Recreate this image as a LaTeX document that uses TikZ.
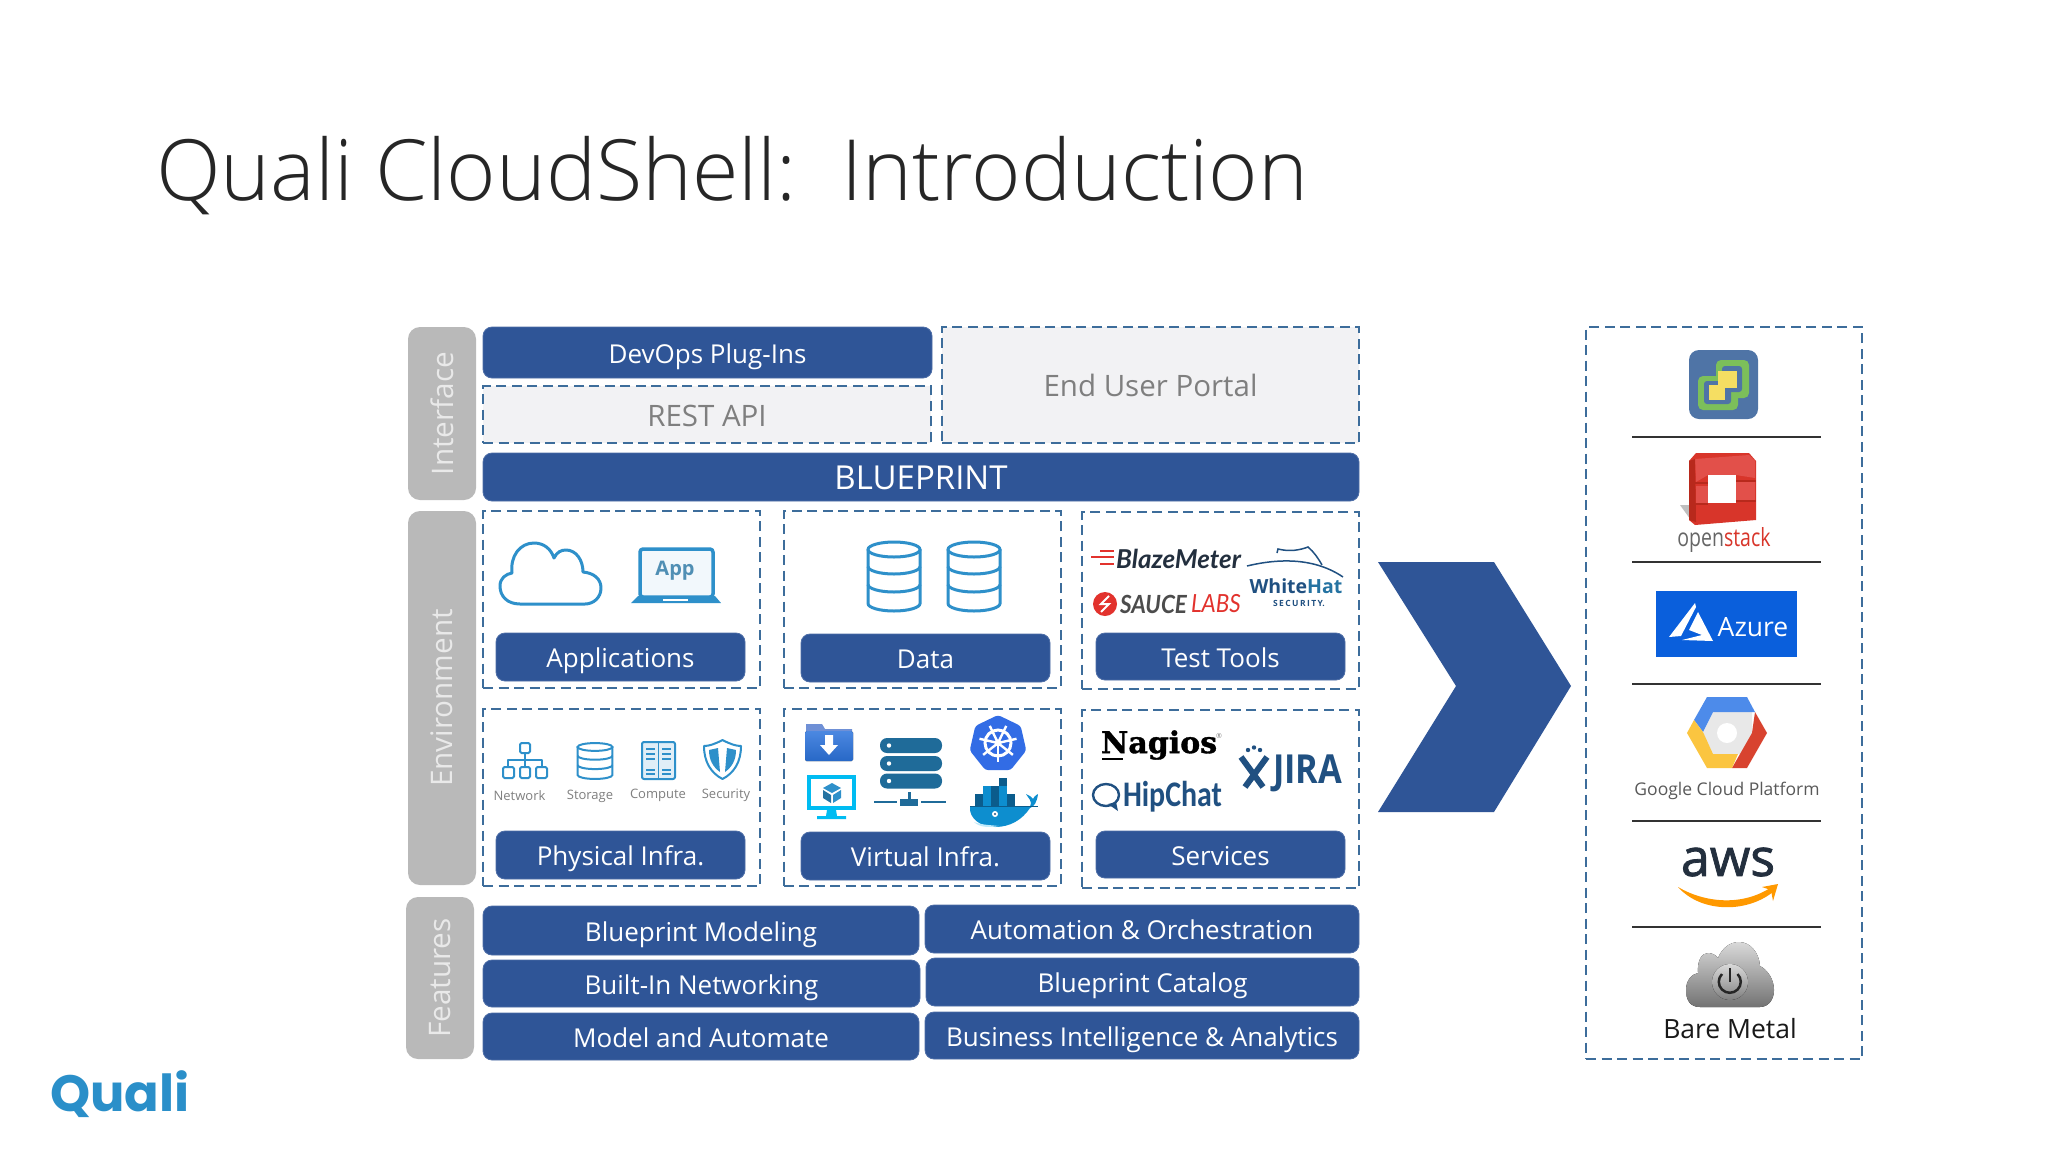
\documentclass[tikz,border=0pt]{standalone}
\usepackage{fontspec}
\usetikzlibrary{shapes.geometric}
\setmainfont{Open Sans}
\newfontfamily\titlefont{Open Sans Light}
\newfontfamily\semifont[FakeBold=1.5]{Open Sans}
\newfontfamily\narrowfont{Carlito}
\newfontfamily\logofont{Poppins}
\newfontfamily\italfont{Lato}
\newfontfamily\nagiosfont[FakeBold=1.2]{DejaVu Serif Bold}
\definecolor{pillblue}{HTML}{2F5597}
\definecolor{dashblue}{HTML}{3D6D9B}
\definecolor{tabgray}{HTML}{B9B9B9}
\definecolor{tabtext}{HTML}{E9E9E9}
\definecolor{greyfill}{HTML}{F2F2F4}
\definecolor{greytext}{HTML}{7F7F7F}
\definecolor{iconblue}{HTML}{2E90CA}
\definecolor{navylogo}{HTML}{205081}
\definecolor{serverblue}{HTML}{1F6B99}
\definecolor{saucered}{HTML}{E2322D}
\definecolor{quali}{HTML}{2A8FC9}
\definecolor{folderblue}{HTML}{2C73DC}
\definecolor{foldertab}{HTML}{6F90D6}
\definecolor{screencyan}{HTML}{00BCF2}
\definecolor{k8sblue}{HTML}{326CE5}
\definecolor{whaleblue}{HTML}{0D8ECF}
\definecolor{cratedark}{HTML}{0B5C8C}
\definecolor{vcblue}{HTML}{4F74A6}
\definecolor{vcgreen}{HTML}{7CBF5A}
\definecolor{vcyellow}{HTML}{F5DE62}
\definecolor{stackdark}{HTML}{B8291C}
\definecolor{stackred}{HTML}{D8352A}
\definecolor{stacklight}{HTML}{E2504A}
\definecolor{azureblue}{HTML}{0A5FDC}
\definecolor{gcpblue}{HTML}{4D8BEA}
\definecolor{gcpred}{HTML}{D8432F}
\definecolor{gcpyellow}{HTML}{FBC540}
\definecolor{awsdark}{HTML}{232F3E}
\definecolor{awsorange}{HTML}{FF9900}
\tikzset{
  every node/.style={inner sep=0pt,outer sep=0pt},
  pill/.style={fill=pillblue,draw=pillblue!85!white,line width=0.8pt,rounded corners=9pt,text=white,
    font={\fontsize{26}{30}\selectfont},text height=21pt,text depth=0pt,align=center},
  dashbox/.style={draw=dashblue,line width=2pt,dash pattern=on 10pt off 5.5pt},
  greybox/.style={dashbox,fill=greyfill,text=greytext,font={\fontsize{29.5}{30}\selectfont},text height=23pt,text depth=0pt},
  tab/.style={fill=tabgray,rounded corners=12pt,rotate=90,text=tabtext,font={\fontsize{29.7}{32}\selectfont}},
  smalllabel/.style={text=greytext,font={\fontsize{13}{14}\selectfont}},
  rule/.style={draw=black!80,line width=1.6pt},
  iconline/.style={draw=iconblue,line width=3pt,line join=round}
}
\newcommand{\dbicon}[5]{
\begin{scope}[shift={(#1,#2)},xscale=#3,yscale=#4]
\draw[iconblue,line width=#5,fill=white] (-26,-27) -- (-26,27) arc (180:0:26 and 7.5) -- (26,-27);
\draw[iconblue,line width=#5] (0,-27) ellipse (26 and 7.5);
\draw[iconblue,line width=#5] (-26,-10) arc (180:0:26 and 7.5);
\draw[iconblue,line width=#5] (-26,8) arc (180:0:26 and 7.5);
\end{scope}}

\begin{document}
\begin{tikzpicture}[x=1pt,y=-1pt]
\useasboundingbox (0,0) rectangle (2048,1152);
\fill[white] (0,0) rectangle (2048,1152);
\node[anchor=base west,font={\titlefont\fontsize{84.5}{90}\selectfont},text=black!85] (title) at (156,200) {Quali CloudShell:\ \ Introduction};
\node[font={\logofont\bfseries\fontsize{51}{60}\selectfont},text=quali] (qualilogo) at (120,1094) {Quali};

\node[tab,minimum width=173pt,minimum height=68pt] (interface) at (442,413.5) {Interface};
\node[tab,minimum width=374pt,minimum height=68pt] (environment) at (442,698) {Environment};
\node[tab,minimum width=162pt,minimum height=68pt] (features) at (440,978) {Features};

\node[pill,minimum width=449pt,minimum height=51pt] (devops) at (707.5,352.5) {DevOps Plug-Ins};
\node[greybox,minimum width=448pt,minimum height=57pt] (restapi) at (707,414.5) {REST API};
\node[greybox,minimum width=417pt,minimum height=116pt] (enduser) at (1150.5,385) {End User Portal};
\node[pill,minimum width=876pt,minimum height=48pt,font={\fontsize{33}{34}\selectfont},text height=25pt] (blueprint) at (921,477) {BLUEPRINT};

\node[dashbox,minimum width=277pt,minimum height=177pt] (appsbox) at (621.5,599.5) {};
\node[dashbox,minimum width=277pt,minimum height=177pt] (databox) at (922,599.5) {};
\node[dashbox,minimum width=277pt,minimum height=177pt] (testbox) at (1220.5,600.5) {};
\node[dashbox,minimum width=277pt,minimum height=177pt] (physbox) at (621.5,797.5) {};
\node[dashbox,minimum width=277pt,minimum height=177pt] (virtbox) at (922,797.5) {};
\node[dashbox,minimum width=277pt,minimum height=178pt] (servbox) at (1220.5,799) {};

\node[pill,minimum width=249pt,minimum height=48pt] (applications) at (620.5,657) {Applications};
\node[pill,minimum width=249pt,minimum height=48pt] (data) at (925.5,658) {Data};
\node[pill,minimum width=249pt,minimum height=47pt] (testtools) at (1220.5,656.5) {Test Tools};
\node[pill,minimum width=249pt,minimum height=48pt] (physical) at (620.5,855) {Physical Infra.};
\node[pill,minimum width=249pt,minimum height=48pt] (virtual) at (925.5,856) {Virtual Infra.};
\node[pill,minimum width=249pt,minimum height=47pt] (services) at (1220.5,854.5) {Services};

\node[pill,minimum width=436pt,minimum height=49pt] (modeling) at (701,930.5) {Blueprint Modeling};
\node[pill,minimum width=437pt,minimum height=47pt] (networking) at (701.5,983.5) {Built-In Networking};
\node[pill,minimum width=436pt,minimum height=47pt] (automate) at (701,1036.5) {Model and Automate};
\node[pill,minimum width=434pt,minimum height=48pt] (orchestration) at (1142,929) {Automation \& Orchestration};
\node[pill,minimum width=433pt,minimum height=48pt] (catalog) at (1142.5,982) {Blueprint Catalog};
\node[pill,minimum width=434pt,minimum height=47pt] (analytics) at (1142,1035.5) {Business Intelligence \& Analytics};

\fill[pillblue] (1378,562) -- (1494,562) -- (1571,686) -- (1494,812) -- (1378,812) -- (1456,686) -- cycle;
\node[dashbox,minimum width=276pt,minimum height=732pt] (targets) at (1724,693) {};
\draw[rule] (1632,437) -- (1821,437);
\draw[rule] (1632,562) -- (1821,562);
\draw[rule] (1632,684) -- (1821,684);
\draw[rule] (1632,821) -- (1821,821);
\draw[rule] (1632,927) -- (1821,927);

\draw[iconline] (520,604) .. controls (507,604) and (500,596) .. (500,586) .. controls (500,578) and (506,574) .. (512,573) .. controls (510,556) and (520,543) .. (534,543) .. controls (544,543) and (551,549) .. (554,558) .. controls (557,552) and (561,550) .. (566,550) .. controls (576,550) and (583,560) .. (583,572) .. controls (594,573) and (601,579) .. (601,588) .. controls (601,598) and (593,604) .. (585,604) -- cycle;
\draw[iconline,line width=3.5pt,rounded corners=3pt,fill=iconblue!6] (640,549) rectangle (713,597);
\fill[iconblue] (638,596) -- (715,596) -- (721,603) -- (631,603) -- cycle;
\fill[white] (663,598.5) rectangle (688,600.5);
\node[text=iconblue!80!black!80,font={\bfseries\fontsize{20}{20}\selectfont}] (applabel) at (675,571) {App};

\dbicon{894}{576.5}{1}{1}{3pt}
\dbicon{974}{576.5}{1}{1}{3pt}

\draw[iconline,line width=2pt,rounded corners=1.5pt] (520,743) rectangle (530,753);
\draw[iconline,line width=2pt,rounded corners=1.5pt] (503,767) rectangle (514,778);
\draw[iconline,line width=2pt,rounded corners=1.5pt] (520,767) rectangle (530,778);
\draw[iconline,line width=2pt,rounded corners=1.5pt] (536,767) rectangle (547,778);
\draw[iconline,line width=2pt] (525,753) -- (525,767);
\draw[iconline,line width=2pt] (508,767) -- (508,760) -- (542,760) -- (542,767);
\dbicon{595}{761}{.67}{.52}{2pt}
\draw[iconline,line width=2pt,fill=iconblue!15,rounded corners=2pt] (642,742) rectangle (675,779);
\draw[iconline,line width=1.5pt] (658.5,742) -- (658.5,779);
\foreach \ly in {749,754,759,770,774}{
\draw[iconblue,line width=1.5pt] (646,\ly) -- (655,\ly);
\draw[iconblue,line width=1.5pt] (662,\ly) -- (671,\ly);}
\draw[iconline,line width=2pt,fill=white] (722.5,740) .. controls (730,744) and (736,746) .. (741,746) .. controls (741,762) and (734,773) .. (722.5,779) .. controls (711,773) and (704,762) .. (704,746) .. controls (709,746) and (715,744) .. (722.5,740) -- cycle;
\fill[iconblue] (709,750) -- (718,748) -- (720,772) .. controls (713,767) and (709,760) .. (709,750) -- cycle;
\fill[iconblue] (736,750) -- (727,748) -- (725,772) .. controls (732,767) and (736,760) .. (736,750) -- cycle;
\node[smalllabel] (network) at (519.5,796) {Network};
\node[smalllabel] (storage) at (590,796.5) {Storage};
\node[smalllabel] (compute) at (658,795) {Compute};
\node[smalllabel] (security) at (726,795) {Security};

\fill[foldertab] (806,724) -- (822,724) -- (825,729) -- (852,729) -- (852,735) -- (806,735) -- cycle;
\fill[top color=folderblue!85!white,bottom color=folderblue!90!black,rounded corners=1.5pt] (805,731) rectangle (853,761);
\fill[white] (825,735) -- (833,735) -- (833,745) -- (838,745) -- (829,755) -- (820,745) -- (825,745) -- cycle;
\fill[screencyan] (807,775) rectangle (856,810);
\fill[white] (811,779) rectangle (852,806);
\fill[screencyan] (827,810) -- (836,810) -- (837,816) -- (846,816) -- (846,819) -- (817,819) -- (817,816) -- (826,816) -- cycle;
\fill[iconblue] (832,783) -- (841,788) -- (832,793) -- (823,788) -- cycle;
\fill[iconblue!80!black] (823,790) -- (831,795) -- (831,803) -- (823,798) -- cycle;
\fill[iconblue] (841,790) -- (833,795) -- (833,803) -- (841,798) -- cycle;

\foreach \ly in {745.5,763.5,781}{
\fill[serverblue,rounded corners=7pt] (880,\ly-7.5) rectangle (942,\ly+7.5);
\fill[white] (889,\ly) circle (2.2);}
\fill[serverblue] (907.5,792) rectangle (910.5,800);
\fill[serverblue] (900,799) rectangle (918,806);
\draw[serverblue,line width=2.6pt] (874,802) -- (897,802);
\draw[serverblue,line width=2.6pt] (921,802) -- (946,802);

\node[regular polygon,regular polygon sides=7,minimum size=58pt,fill=k8sblue,rounded corners=3pt] (k8s) at (998,744) {};
\draw[white,line width=3pt] (998,743) circle (13);
\fill[white] (998,743) circle (3.5);
\foreach \ang in {90,141.4,192.9,244.3,295.7,347.1,38.6}{
\draw[white,line width=2.4pt] (998,743) -- ++(\ang:19);}

\fill[whaleblue] (970,807) -- (1030,807) .. controls (1033,801) and (1028,798) .. (1026,794) .. controls (1030,796) and (1032,797) .. (1033,799) .. controls (1035,795) and (1037,795) .. (1038,794) .. controls (1037,802) and (1034,807) .. (1030,808) .. controls (1022,820) and (1010,827) .. (995,827) .. controls (980,827) and (969,818) .. (970,807) -- cycle;
\fill[cratedark] (999,778) rectangle (1007,786);
\fill[whaleblue] (983,786) rectangle (991,794);
\fill[cratedark] (991,786) rectangle (999,794);
\fill[whaleblue] (999,786) rectangle (1007,794);
\foreach \cx/\cc in {975/cratedark,983/whaleblue,991/cratedark,999/whaleblue,1007/cratedark}{
\fill[\cc] (\cx,794) rectangle (\cx+8,806);}
\draw[cratedark,line width=1pt] (970,806) -- (1038,806);
\fill[white] (995,814) circle (3);
\fill[navylogo] (995,814) circle (1.2);
\fill[cyan!25!white] (974,822) .. controls (982,825) and (990,825) .. (999,826) .. controls (988,828) and (979,827) .. (974,822) -- cycle;

\foreach \ly/\lx in {551/1100,557/1091,564/1100}{
\draw[saucered,line width=2pt] (\lx,\ly) -- (1114,\ly);}
\node[anchor=west,text=awsdark,font={\italfont\bfseries\itshape\fontsize{26}{26}\selectfont}] (blazemeter) at (1116,559) {BlazeMeter};
\fill[saucered] (1105,604) circle (12);
\draw[white,line width=2pt] (1109,596) -- (1101,604) -- (1109,604) -- (1101,612);
\node[anchor=west,text=black!70,font={\italfont\bfseries\itshape\fontsize{25}{26}\selectfont},xscale=.9] (sauce) at (1120,604) {SAUCE};
\node[anchor=west,text=saucered,font={\italfont\itshape\fontsize{25}{26}\selectfont},xscale=.9] (labs) at (1191,604) {LABS};
\draw[navylogo,line width=1.5pt] (1247,566) .. controls (1280,558) and (1315,558) .. (1343,577);
\draw[navylogo,line width=1.5pt] (1277,553) -- (1278,549) .. controls (1290,552) and (1300,550) .. (1308,547) .. controls (1314,552) and (1318,558) .. (1322,565);
\node[font={\bfseries\fontsize{19.5}{20}\selectfont}] (whitehat) at (1296,586) {\textcolor{navylogo}{White}\textcolor{iconblue!80!black}{Hat}};
\node[text=navylogo,font={\bfseries\fontsize{8.5}{9}\selectfont}] (whitesec) at (1299,603) {S\,E\,C\,U\,R\,I\,T\,Y.};

\node[anchor=west,font={\nagiosfont\fontsize{30}{30}\selectfont}] (nagios) at (1101,745) {Nagios};
\draw[line width=1.5pt] (1102,759) -- (1123,759);
\node[text=black!50,font={\fontsize{7}{7}\selectfont}] (nagiosreg) at (1219,736) {\textregistered};
\draw[navylogo,line width=2.4pt] (1106,795) ellipse (13 and 11);
\fill[navylogo] (1108,804) -- (1118,811) -- (1116,802) -- cycle;
\node[anchor=west,text=navylogo,font={\narrowfont\bfseries\fontsize{36}{36}\selectfont},xscale=.83] (hipchat) at (1123,797) {HipChat};
\node[anchor=west,text=navylogo,font={\bfseries\fontsize{40}{40}\selectfont},xscale=.86] (jira) at (1273,773) {JIRA};
\fill[navylogo] (1248,750) circle (2.2);
\fill[navylogo] (1254,747.5) circle (2.2);
\fill[navylogo] (1260,750) circle (2.2);
\draw[navylogo,line width=6pt] (1241,757) -- (1263,787);
\draw[navylogo,line width=6pt] (1267,757) -- (1245,787);

\fill[vcblue,rounded corners=10pt] (1689,350) rectangle (1758,419);
\fill[vcgreen,rounded corners=5pt] (1698,376) rectangle (1738,410);
\fill[vcgreen,rounded corners=5pt] (1716,360) rectangle (1749,398);
\fill[vcblue,rounded corners=3pt] (1704,381) rectangle (1731,404);
\fill[vcblue,rounded corners=3pt] (1722,366) rectangle (1742,392);
\fill[vcyellow] (1718,371) rectangle (1737,388);
\fill[vcyellow] (1709,385) rectangle (1725,400);

\fill[black!25] (1680,505) -- (1693,505) -- (1693,523) -- cycle;
\fill[stackred] (1689,461) -- (1696,453) -- (1749,453) -- (1756,461) -- (1756,520) -- (1695,525) -- (1689,520) -- cycle;
\fill[stacklight] (1695,459) -- (1749,455) -- (1755,461) -- (1755,478) -- (1736,475) -- (1708,475) -- (1696,482) -- cycle;
\fill[stackdark] (1689,461) -- (1695,459) -- (1696,522) -- (1689,520) -- cycle;
\fill[stacklight] (1696,486) rectangle (1708,503);
\fill[stacklight] (1736,482) rectangle (1755,500);
\fill[stackdark] (1689,482) -- (1708,482) -- (1708,484) -- (1689,484) -- cycle;
\fill[stackdark] (1689,503) -- (1708,503) -- (1708,505) -- (1689,505) -- cycle;
\fill[stackdark] (1736,480) -- (1756,480) -- (1756,482) -- (1736,482) -- cycle;
\fill[stackdark] (1736,500) -- (1756,500) -- (1756,502) -- (1736,502) -- cycle;
\fill[white] (1708,475) rectangle (1736,503);

\node[font={\fontsize{25}{26}\selectfont},xscale=.78] (openstack) at (1724,540) {\textcolor{black!60}{open}\textcolor{stackred}{stack}};

\fill[azureblue] (1656,591) rectangle (1797,657);
\fill[white] (1695,603) -- (1669,637) -- (1681,636) -- (1696,607) -- cycle;
\fill[white] (1698,612) -- (1713,641) -- (1682,640) -- (1702,635) -- (1689,630) -- cycle;
\node[text=white,font={\fontsize{26.5}{28}\selectfont}] (azure) at (1753,627) {Azure};

\fill[black!9] (1703,733) -- (1713,712) -- (1752,712) -- (1752,733) -- (1752,754) -- (1713,754) -- cycle;
\fill[white] (1727,733) circle (10);
\fill[gcpblue] (1694,720) -- (1707,697) -- (1747,697) -- (1755,712) -- (1713,712) -- (1703,732) -- cycle;
\fill[gcpred] (1755,712) -- (1767,733) -- (1747,768) -- (1732,768) -- (1752,733) -- cycle;
\fill[gcpyellow] (1694,720) -- (1687,733) -- (1707,768) -- (1732,768) -- (1738,754) -- (1713,754) -- (1703,732) -- cycle;
\node[text=black!65,font={\fontsize{17.5}{20}\selectfont}] (gcp) at (1727,791) {Google Cloud Platform};

\node[text=awsdark,font={\semifont\fontsize{52}{56}\selectfont}] (aws) at (1728,862) {aws};
\fill[awsorange] (1678,887) .. controls (1705,903) and (1742,906) .. (1770,888) -- (1773,892) .. controls (1745,914) and (1700,912) .. (1678,887) -- cycle;
\fill[awsorange] (1762,887) -- (1778,884) -- (1773,901) -- (1771,890) -- cycle;

\fill[top color=black!15,bottom color=black!55] (1700,1007) .. controls (1690,1007) and (1686,1000) .. (1686,990) .. controls (1686,980) and (1692,974) .. (1698,973) .. controls (1697,960) and (1702,953) .. (1708,953) .. controls (1712,953) and (1716,955) .. (1718,958) .. controls (1722,948) and (1730,942) .. (1739,942) .. controls (1750,942) and (1759,952) .. (1760,966) .. controls (1768,970) and (1774,980) .. (1774,990) .. controls (1774,1000) and (1768,1007) .. (1760,1007) -- cycle;
\fill[top color=black!15,bottom color=black!50] (1730,982) circle (18);
\draw[black!85,line width=2.5pt] (1722,974) arc (225:-45:11);
\draw[black!85,line width=2.5pt] (1730,968) -- (1730,982);
\node[font={\fontsize{26.5}{28}\selectfont},text=black!90] (baremetal) at (1730,1029) {Bare Metal};
\end{tikzpicture}
\end{document}
